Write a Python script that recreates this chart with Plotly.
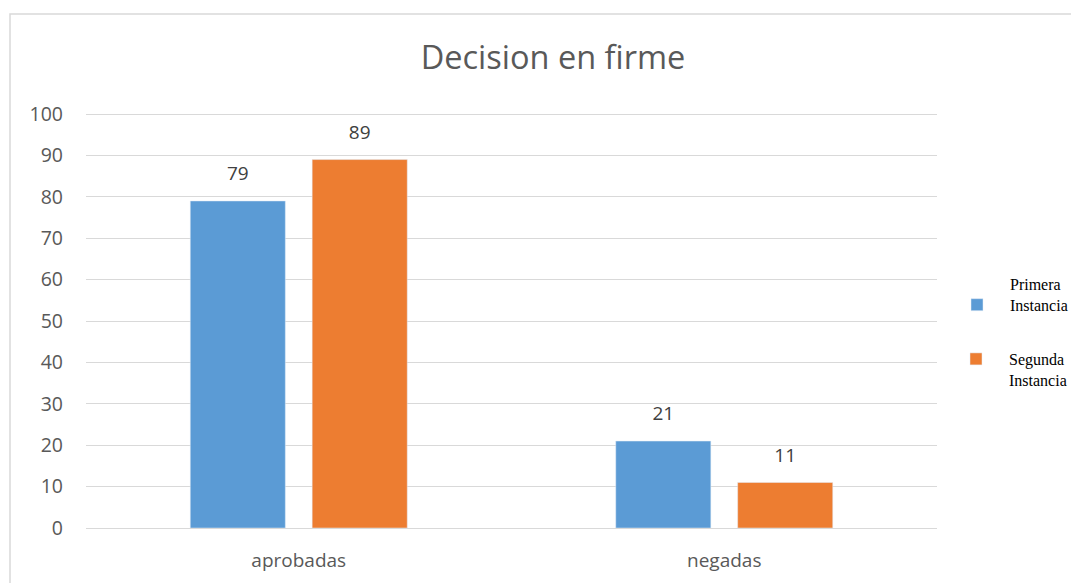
import plotly.graph_objects as go

categories = ["aprobadas", "negadas"]
primera = [79, 21]
segunda = [89, 11]
series_names = ["Primera<br>Instancia", "Segunda<br>Instancia"]
colors = ["#5B9BD5", "#ED7D31"]

# page body has an 8px margin, so the figure is slightly smaller and shifted
OFF = 8
W, H = 1079 - OFF, 583 - OFF
L, T = 86 - OFF, 113 - OFF
pw, ph = 851, 415
R, B = W - L - pw, H - T - ph

FONT = "Open Sans"

fig = go.Figure()
legends = ["legend", "legend2"]
for name, vals, col, lg in zip(series_names, [primera, segunda], colors, legends):
    fig.add_trace(go.Bar(
        x=categories, y=vals, name=name, marker_color=col, legend=lg,
        text=vals, textposition="outside", cliponaxis=False,
        texttemplate="<span style='font-size:19px'>%{text}</span><br>\u00a0",
        textfont=dict(family=FONT, size=11.5, color="#404040"),
        hovertemplate="%{x}: %{y}<extra></extra>",
    ))

def px_x(x):
    return (x - OFF - L) / pw

def px_y(y):
    return 1 - (y - OFF - T) / ph

leg_font = dict(family="Liberation Serif", size=16, color="#000000")

fig.update_layout(
    width=W, height=H,
    margin=dict(l=L, r=R, t=T, b=B, autoexpand=False),
    paper_bgcolor="white", plot_bgcolor="white",
    barmode="group", bargap=0.427, bargroupgap=0.22,
    title=dict(text="Decision en firme", x=px_x(553), xref="paper", xanchor="center",
               y=1 - (58 - OFF) / H, yanchor="middle",
               font=dict(family=FONT, size=32.5, color="#595959")),
    font=dict(family=FONT, color="#595959"),
    xaxis=dict(showgrid=False, showline=False, tickfont=dict(size=19, color="#595959"),
               ticks="", ticklabelstandoff=19),
    yaxis=dict(range=[0, 100.25], dtick=10, showgrid=True, gridcolor="#D9D9D9", gridwidth=1.3,
               zeroline=True, zerolinecolor="#D9D9D9", zerolinewidth=1.3,
               tickfont=dict(size=19.5, color="#595959"), ticks="", ticklabelstandoff=22),
    legend=dict(x=px_x(944), xanchor="left", y=px_y(267), yanchor="top",
                font=leg_font, valign="bottom", itemwidth=56),
    legend2=dict(x=px_x(943), xanchor="left", y=px_y(342), yanchor="top",
                 font=leg_font, valign="top", itemwidth=56),
    showlegend=True,
)

fig.add_shape(type="rect", xref="paper", yref="paper",
              x0=px_x(10), x1=px_x(1100),
              y0=px_y(600), y1=px_y(14),
              line=dict(color="#D9D9D9", width=1.5), fillcolor="rgba(0,0,0,0)", layer="below")

fig.write_html("out.html")
